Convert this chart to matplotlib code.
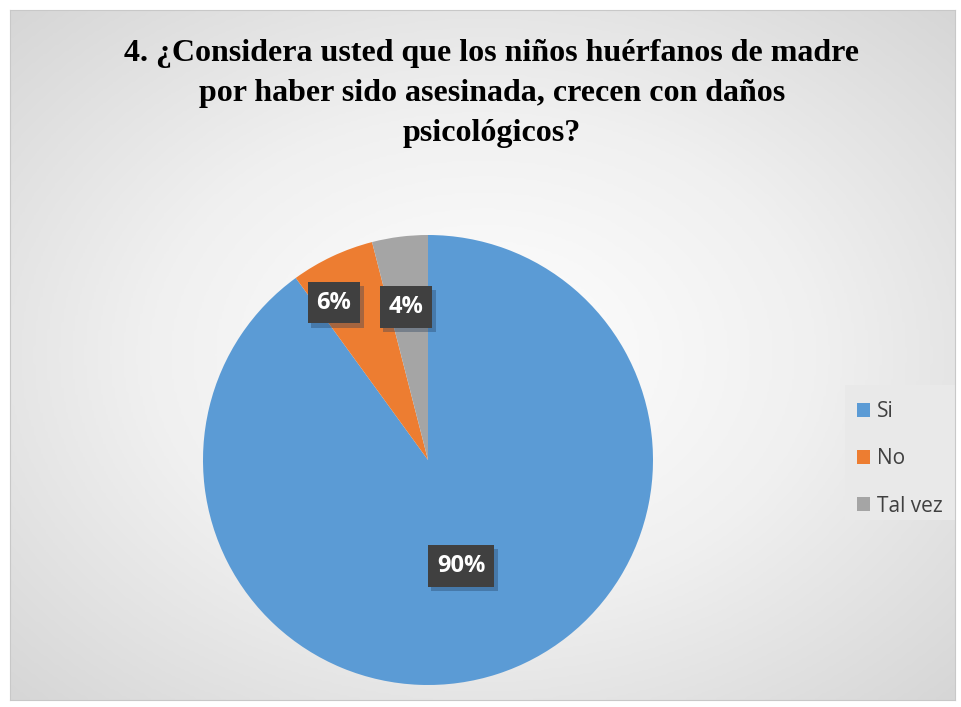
import matplotlib.pyplot as plt
import matplotlib.patheffects as pe
import numpy as np
from matplotlib.colors import LinearSegmentedColormap
from matplotlib.patches import Rectangle

categories = ["Si", "No", "Tal vez"]
values = [90, 6, 4]
labels = ["90%", "6%", "4%"]
colors = ["#5b9bd5", "#ed7d31", "#a5a5a5"]

title = ("4. ¿Considera usted que los niños huérfanos de madre\n"
         "por haber sido asesinada, crecen con daños\n"
         "psicológicos?")

W, H = 961, 707
fig = plt.figure(figsize=(W / 100, H / 100), dpi=100, facecolor="white")

# background gradient panel
bg = fig.add_axes([10 / W, 7 / H, 945 / W, 690 / H])
yy, xx = np.mgrid[-1:1:300j, -1:1:400j]
r = np.sqrt(xx ** 2 + yy ** 2) / np.sqrt(2)
grad = LinearSegmentedColormap.from_list("g", ["#ffffff", "#f0f0f0", "#d6d6d6"])
bg.imshow(r, cmap=grad, vmin=0, vmax=1, extent=[0, 1, 0, 1],
          aspect="auto", interpolation="bilinear")
bg.set_xticks([])
bg.set_yticks([])
for s in bg.spines.values():
    s.set_color("#c8c8c8")

# legend background
bg.add_patch(Rectangle((835 / 945, 180 / 690), 115 / 945, 135 / 690,
                       transform=bg.transAxes, facecolor="#e9e9e9",
                       edgecolor="none", zorder=2))

# pie
radius_px = 225
cx, cy = 428, 460
ax = fig.add_axes([(cx - radius_px) / W, (H - cy - radius_px) / H,
                   2 * radius_px / W, 2 * radius_px / H])
wedges, _ = ax.pie(values, colors=colors, startangle=90, counterclock=False,
                   radius=1.0, wedgeprops=dict(edgecolor="none"))
ax.set_xlim(-1, 1)
ax.set_ylim(-1, 1)
ax.set_aspect("auto")
ax.axis("off")

label_pos = [(0.147, -0.471), (-0.418, 0.70), (-0.098, 0.68)]
for lab, (x, y) in zip(labels, label_pos):
    t = ax.text(x, y, lab, ha="center", va="center", color="white",
                fontsize=17, fontweight="bold", family="Open Sans",
                bbox=dict(boxstyle="square,pad=0.38", facecolor="#404040",
                          edgecolor="none"))
    t.get_bbox_patch().set_path_effects([
        pe.SimplePatchShadow(offset=(2.5, -3), shadow_rgbFace="#1f3a5a",
                             alpha=0.35),
        pe.Normal(),
    ])

fig.text(492 / W, 1 - 94 / H, title, ha="center", va="center", fontsize=23,
         fontweight="bold", family="Liberation Serif", linespacing=1.5)

fig.legend(wedges, categories, loc="center left",
           bbox_to_anchor=(838 / W, 1 - 459 / H), frameon=False,
           prop={"family": "Open Sans", "size": 15}, handlelength=0.65,
           handleheight=0.65, handletextpad=0.3, labelspacing=1.25,
           labelcolor="#404040")

fig.savefig("out.png", dpi=100, facecolor="white")
